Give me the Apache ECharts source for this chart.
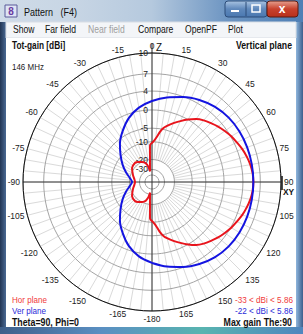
<!DOCTYPE html>
<html><head><meta charset="utf-8">
<script src="https://cdn.jsdelivr.net/npm/echarts@6/dist/echarts.min.js"></script>
<style>html,body{margin:0;padding:0;background:#fff;overflow:hidden}#c{width:303px;height:334px}</style>
</head><body><div id="c"></div>
<script>
// ---- data (gain in dBi vs angle in degrees, -180..180, 0 = Z up, clockwise) ----
const horTheta = [-180,-177,-176,-175,-174,-173,-172,-170,-168,-166,-162,-158,-153,-145,-138,-125,-110,-100,-90,-80,-70,-55,-42,-35,-27,-22,-18,-14,-12,-10,-8,-7,-6,-5,-4,-3,0,3,6,9,12,15,20,25,30,35,40,45,50,55,60,65,70,75,80,85,90,95,100,105,110,115,120,125,130,135,140,145,150,155,160,165,168,171,174,177,180];
const horGain  = [-10.5,-11.5,-15.5,-19.5,-22.5,-25.5,-28,-32.5,-29,-25.5,-22.5,-21,-20,-18.5,-17.8,-18.6,-21.8,-23.8,-24.8,-23.8,-21.8,-18.6,-17.8,-18.5,-20,-21,-22.5,-25.5,-29,-32.5,-28,-25.5,-22.5,-19.5,-15.5,-11.5,-10.5,-9.5,-8,-6,-4.6,-3.7,-2.4,-1.2,0,1.1,1.9,2.5,3.1,3.6,4.1,4.5,4.95,5.3,5.6,5.8,5.86,5.8,5.6,5.3,4.95,4.5,4.1,3.6,3.1,2.5,1.9,1.1,0,-1.2,-2.4,-3.7,-4.6,-6,-8,-9.5,-10.5];
const verTheta = [-180,-170,-160,-150,-140,-130,-120,-110,-100,-90,-80,-70,-60,-50,-40,-30,-20,-10,0,10,20,30,40,50,60,70,80,90,100,110,120,130,140,150,160,170,180];
const verGain  = [2,0.8,-1,-3.5,-6.3,-9.7,-13,-16.5,-20,-22,-20,-16.5,-13,-9.7,-6.3,-3.5,-1,0.8,2,3,3.9,4.7,5.3,5.65,5.8,5.85,5.86,5.86,5.86,5.85,5.8,5.65,5.3,4.7,3.9,3,2];
const ringDb = [10,7,4,0,-5,-10,-20,-30,-40];
const ringLabels = ['10','7','4','0','-5','-10','-20','-30','-40'];
const angleLabels = ['0','15','30','45','60','75','90','105','120','135','150','165','-180','-165','-150','-135','-120','-105','-90','-75','-60','-45','-30','-15'];
const seriesNames = ['Hor plane','Ver plane'];
const rangeTexts = ['-33 < dBi < 5.86','-22 < dBi < 5.86'];

// ARRL log-periodic radial scale (0.89 per 2 dB, 10 dBi at the rim)
const toR = db => Math.pow(0.89, (10 - db) / 2);
const toAng = t => (t + 360) % 360;
const ringR = ringDb.map(toR);

const FONT = '"Liberation Sans",Arial,sans-serif';
const RED = '#e8141c', BLUE = '#1414e0';
const CX = 152, CY = 182, RAD = 129;

const chart = echarts.init(document.getElementById('c'), null, {renderer: 'svg'});
const G = echarts.graphic;
const lin = (x0,y0,x1,y1,stops) => new G.LinearGradient(x0,y0,x1,y1,stops.map((c,i)=>({offset:i/(stops.length-1),color:c})));
const txt = (x, y, text, font, fill, align, sx) => ({type:'text', x, y, scaleX: sx || 0.86, z:20,
  style:{text, font: font + ' ' + FONT, fill, align: align || 'left', verticalAlign:'middle'}});

const chrome = [
  {type:'rect', shape:{x:0,y:0,width:303,height:334}, style:{fill:lin(0,0,0,1,['#3a5274','#5d7ea6'])}, z:-10},
  {type:'rect', shape:{x:0,y:0,width:303,height:22}, style:{fill:lin(0,0,1,0,['#cfdbe8','#c7d5e4','#b5c9de','#6d95c2','#4f7fb5'])}, z:-9},
  {type:'rect', shape:{x:296,y:22,width:7,height:312}, style:{fill:lin(0,0,1,0,['#8fb6dd','#3c5f8c'])}, z:-9},
  {type:'rect', shape:{x:0,y:22,width:6,height:312}, style:{fill:lin(0,0,1,0,['#223553','#4a6a94'])}, z:-9},
  {type:'rect', shape:{x:0,y:327,width:303,height:7}, style:{fill:lin(0,0,1,0,['#3e5f8a','#5a8fc2','#58b4b0','#4f86bf'])}, z:-9},
  {type:'rect', shape:{x:6,y:22,width:290,height:16}, style:{fill:'#f3f5f8', stroke:'#d8dde4', lineWidth:1}, z:-8},
  {type:'rect', shape:{x:6,y:38,width:290,height:289}, style:{fill:'#ffffff'}, z:-8},
  // icon
  {type:'rect', shape:{x:5,y:5,width:12,height:12}, style:{fill:'#dfe4f4', stroke:'#5a5a9a', lineWidth:1}, z:-7},
  {type:'text', x:11, y:11, style:{text:'8', font:'bold 10px '+FONT, fill:'#6a3aa0', align:'center', verticalAlign:'middle'}, z:-6},
  Object.assign(txt(24, 12, 'Pattern   (F4)', '10px', '#111', 'left', 0.9), {z:-6}),
  // caption buttons
  {type:'rect', shape:{x:225,y:1,width:42,height:16, r:3}, style:{fill:lin(0,0,0,1,['#a9c4e2','#5f88bb','#4a78b0']), stroke:'#2d4c78', lineWidth:1}, z:-7},
  {type:'line', shape:{x1:246,y1:2,x2:246,y2:16}, style:{stroke:'#2d4c78'}, z:-6},
  {type:'rect', shape:{x:231,y:10,width:8,height:2}, style:{fill:'#ffffff'}, z:-6},
  {type:'rect', shape:{x:252,y:5,width:8,height:7}, style:{fill:'none', stroke:'#ffffff', lineWidth:1.5}, z:-6},
  {type:'rect', shape:{x:267,y:1,width:31,height:16, r:3}, style:{fill:lin(0,0,0,1,['#e6a08f','#c8412c','#b8301c']), stroke:'#5c1a10', lineWidth:1}, z:-7},
  {type:'text', x:282, y:9, style:{text:'x', font:'bold 12px '+FONT, fill:'#ffffff', align:'center', verticalAlign:'middle'}, z:-6},
  // axis extension above the rim and the tick at 90
  {type:'line', shape:{x1:CX, y1:CY-RAD-9, x2:CX, y2:CY-RAD}, style:{stroke:'#222', lineWidth:1}, z:4},
  {type:'line', shape:{x1:CX+RAD+1, y1:CY-6, x2:CX+RAD+1, y2:CY+8}, style:{stroke:'#111', lineWidth:1.5}, z:4},
  // menu
  txt(13, 30, 'Show', '10px', '#111'),
  txt(45, 30, 'Far field', '10px', '#111'),
  txt(88, 30, 'Near field', '10px', '#a0a0a0'),
  txt(138, 30, 'Compare', '10px', '#111'),
  txt(185, 30, 'OpenPF', '10px', '#111'),
  txt(228, 30, 'Plot', '10px', '#111'),
  // plot texts
  txt(12, 46, 'Tot-gain [dBi]', 'bold 10px', '#111', 'left', 0.83),
  txt(12, 67, '146 MHz', '9.5px', '#222', 'left', 0.84),
  txt(292, 46, 'Vertical plane', 'bold 10px', '#111', 'right', 0.87),
  txt(12, 300, seriesNames[0], '9.5px', '#f03a3a', 'left', 0.85),
  txt(12, 311, seriesNames[1], '9.5px', '#2a2ad8', 'left', 0.85),
  txt(12, 322, 'Theta=90, Phi=0', 'bold 10px', '#111', 'left', 0.88),
  txt(293, 300, rangeTexts[0], '9.5px', '#f03a3a', 'right', 0.86),
  txt(293, 311, rangeTexts[1], '9.5px', '#2a2ad8', 'right', 0.86),
  txt(292, 322, 'Max gain The:90', 'bold 10px', '#111', 'right', 0.88),
  txt(156, 47, 'Z', '11px', '#111', 'left', 0.9),
  txt(283, 192, 'XY', 'bold 9.5px', '#111', 'left', 0.88)
];

const angBase = {type:'value', min:0, max:360, startAngle:90, clockwise:true, axisTick:{show:false}};
chart.setOption({
  animation:false,
  graphic: chrome,
  polar:[
    {center:[CX,CY], radius:RAD},
    {center:[CX,CY], radius:[toR(-20)*RAD, RAD]},
    {center:[CX,CY], radius:RAD}
  ],
  angleAxis:[
    Object.assign({}, angBase, {polarIndex:0, interval:15, z:5,
      axisLine:{show:true, lineStyle:{color:'#111', width:1}},
      splitLine:{show:false},
      axisLabel:{margin:3, fontSize:8.5, fontFamily:FONT, color:'#222',
        formatter:v=>angleLabels[Math.round(v/15)%24]}}),
    Object.assign({}, angBase, {polarIndex:1, interval:5, z:1,
      axisLine:{show:false}, axisLabel:{show:false},
      splitLine:{show:true, lineStyle:{color:'#dadada', width:1}}}),
    Object.assign({}, angBase, {polarIndex:2, interval:90, z:3,
      axisLine:{show:false}, axisLabel:{show:false},
      splitLine:{show:true, lineStyle:{color:'#333', width:1}}})
  ],
  radiusAxis:[
    {polarIndex:0, type:'value', min:0, max:1, z:2,
      axisLine:{show:false}, axisTick:{show:false, customValues:ringR},
      axisLabel:{customValues:ringR, margin:4, fontSize:8.5, fontFamily:FONT, color:'#222',
        formatter:v=>{const i=ringR.findIndex(r=>Math.abs(r-v)<1e-6);return i>=0?ringLabels[i]:'';}},
      splitLine:{show:true, lineStyle:{color:'#a4a4a4', width:1}}},
    {polarIndex:1, type:'value', min:0, max:1, show:false},
    {polarIndex:2, type:'value', min:0, max:1, show:false}
  ],
  series:[
    {name:seriesNames[0], type:'line', coordinateSystem:'polar', polarIndex:0, showSymbol:false, smooth:0.3, z:10,
      lineStyle:{color:RED, width:2}, data:horTheta.map((t,i)=>[toR(horGain[i]), toAng(t)])},
    {name:seriesNames[1], type:'line', coordinateSystem:'polar', polarIndex:0, showSymbol:false, smooth:0.3, z:11,
      lineStyle:{color:BLUE, width:2}, data:verTheta.map((t,i)=>[toR(verGain[i]), toAng(t)])}
  ]
});
</script></body></html>
